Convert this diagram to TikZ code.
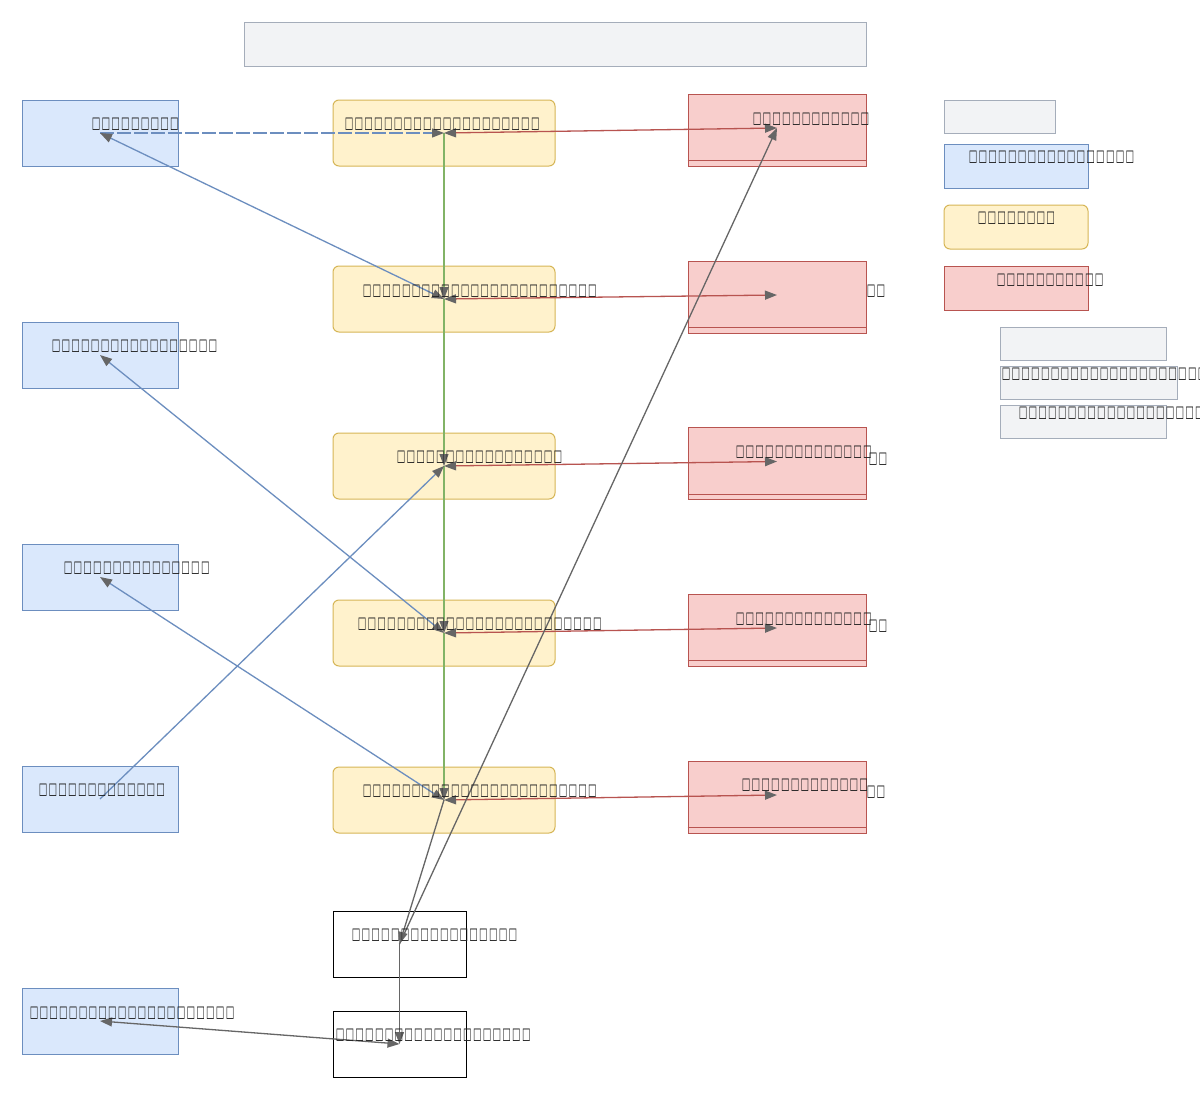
\documentclass[tikz,border=0pt]{standalone}
\usepackage{fontspec}
\usepackage{graphicx}
\setmainfont{DejaVu Sans}
\usetikzlibrary{arrows.meta}
\definecolor{bluef}{HTML}{DAE8FC}\definecolor{blued}{HTML}{6C8EBF}
\definecolor{yelf}{HTML}{FFF2CC}\definecolor{yeld}{HTML}{D6B656}
\definecolor{redf}{HTML}{F8CECC}\definecolor{redd}{HTML}{B85450}
\definecolor{grayf}{HTML}{F2F3F5}\definecolor{grayd}{HTML}{A5ADBA}
\definecolor{edgec}{HTML}{666666}\definecolor{greend}{HTML}{82B366}
\definecolor{txtc}{HTML}{222222}
\newcommand\tfglyph{\makebox[9.8pt][c]{\resizebox*{8.6pt}{12.5pt}{\char"2610}}}
\newcommand\tofus[1]{{\count255=0 \loop\ifnum\count255<#1 \tfglyph\advance\count255 by 1 \repeat}}
\tikzset{
  base/.style={draw, line width=1pt, inner sep=0pt},
  bluebox/.style={base, fill=bluef, draw=blued, minimum width=156pt, minimum height=66pt},
  yelbox/.style={base, fill=yelf, draw=yeld, rounded corners=6pt, minimum width=222pt, minimum height=66pt},
  redbox/.style={base, fill=redf, draw=redd, minimum width=178pt, minimum height=72pt},
  blkbox/.style={base, fill=white, draw=black, minimum width=133pt, minimum height=66pt},
  graybox/.style={base, fill=grayf, draw=grayd},
  lbl/.style={inner sep=0pt, anchor=west, text=txtc, font=\fontsize{13}{13}\selectfont},
  tip/.style={-{Triangle[length=12pt,width=9pt,color=edgec]}},
  tips/.style={{Triangle[length=12pt,width=9pt,color=edgec]}-{Triangle[length=12pt,width=9pt,color=edgec]}},
  blueln/.style={draw=blued, line width=1.3pt},
  redln/.style={draw=redd, line width=1.3pt},
  greenln/.style={draw=greend, line width=1.1pt},
  grayln/.style={draw=edgec, line width=1.3pt},
}
\begin{document}
\begin{tikzpicture}[x=1pt,y=-1pt]
\useasboundingbox[fill=white] (0,0) rectangle (1200,1100);
% title
\node[graybox, minimum width=622pt, minimum height=44pt] (title) at (555,44) {};
% left blue
\node[bluebox] (b1) at (100,133) {};
\node[bluebox] (b2) at (100,355) {};
\node[bluebox] (b3) at (100,577) {};
\node[bluebox] (b4) at (100,799) {};
\node[bluebox] (b5) at (100,1021) {};
% yellow
\node[yelbox] (y1) at (444,133) {};
\node[yelbox] (y2) at (444,299) {};
\node[yelbox] (y3) at (444,466) {};
\node[yelbox] (y4) at (444,633) {};
\node[yelbox] (y5) at (444,800) {};
% red
\node[redbox] (r1) at (777,130) {};
\node[redbox] (r2) at (777,297) {};
\node[redbox] (r3) at (777,463.5) {};
\node[redbox] (r4) at (777,630) {};
\node[redbox] (r5) at (777,797) {};
\foreach \r in {r1,r2,r3,r4,r5}
  \draw[redd, line width=1pt] ([yshift=6pt]\r.south west) -- ([yshift=6pt]\r.south east);
% black
\node[blkbox] (k1) at (399.5,944) {};
\node[blkbox] (k2) at (399.5,1044) {};
% legend
\node[graybox, minimum width=111pt, minimum height=33pt] (lg0) at (999.5,116.5) {};
\node[base, fill=bluef, draw=blued, minimum width=144pt, minimum height=44pt] (lg1) at (1016,166) {};
\node[base, fill=yelf, draw=yeld, rounded corners=6pt, minimum width=144pt, minimum height=44pt] (lg2) at (1016,227) {};
\node[base, fill=redf, draw=redd, minimum width=144pt, minimum height=44pt] (lg3) at (1016,288) {};
\node[graybox, minimum width=166pt, minimum height=33pt] (lg4) at (1083,344) {};
\node[graybox, minimum width=177pt, minimum height=33pt] (lg5) at (1088.5,383) {};
\node[graybox, minimum width=166pt, minimum height=33pt] (lg6) at (1083,421.5) {};

% connectors
\draw[greenln, tip] (y1.center) -- (y2.center);
\draw[greenln, tip] (y2.center) -- (y3.center);
\draw[greenln, tip] (y3.center) -- (y4.center);
\draw[greenln, tip] (y4.center) -- (y5.center);
\draw[blueln, dash pattern=on 14pt off 3pt, tip] (b1.center) -- (y1.center);
\draw[blueln, tips] (b1.center) -- (y2.center);
\draw[blueln, tips] (b2.center) -- (y4.center);
\draw[blueln, tip] (b4.center) -- (y3.center);
\draw[blueln, tips] (b3.center) -- (y5.center);
\draw[redln, tips] (y1.center) -- ([yshift=2pt]r1.center);
\draw[redln, tips] (y2.center) -- ([yshift=2pt]r2.center);
\draw[redln, tips] (y3.center) -- ([yshift=2pt]r3.center);
\draw[redln, tips] (y4.center) -- ([yshift=2pt]r4.center);
\draw[redln, tips] (y5.center) -- ([yshift=2pt]r5.center);
\draw[grayln, tip] (k1.center) -- ([yshift=2pt]r1.center);
\draw[grayln, tip] (y5.center) -- (k1.center);
\draw[grayln, tip] (k1.center) -- (k2.center);
\draw[grayln, tips] (b5.center) -- (k2.center);

% texts
\node[lbl] (t1) at (91,124) {\tofus{9}};
\node[lbl] (t2) at (344,124) {\tofus{20}};
\node[lbl] (t3) at (752,119) {\tofus{12}};
\node[lbl] (t4) at (362,291) {\tofus{24}};
\node[lbl] (t5) at (866,291) {\tofus{2}};
\node[lbl] (t6) at (396,457) {\tofus{17}};
\node[lbl] (t7) at (735,452) {\tofus{14}};
\node[lbl] (t7b) at (868,459) {\tofus{2}};
\node[lbl] (t8) at (51,346) {\tofus{17}};
\node[lbl] (t9) at (63,568) {\tofus{15}};
\node[lbl] (t10) at (357,624) {\tofus{25}};
\node[lbl] (t11) at (735,619) {\tofus{14}};
\node[lbl] (t11b) at (868,626) {\tofus{2}};
\node[lbl] (t12) at (38,790) {\tofus{13}};
\node[lbl] (t13) at (362,791) {\tofus{24}};
\node[lbl] (t14) at (741,785) {\tofus{13}};
\node[lbl] (t14b) at (866,792) {\tofus{2}};
\node[lbl] (t15) at (351,935) {\tofus{17}};
\node[lbl] (t16) at (335,1035) {\tofus{20}};
\node[lbl] (t17) at (29,1013) {\tofus{21}};
\node[lbl] (t18) at (968,157) {\tofus{17}};
\node[lbl] (t19) at (977,218) {\tofus{8}};
\node[lbl] (t20) at (996,280) {\tofus{11}};
\node[lbl] (t21) at (1001,374) {\tofus{21}};
\node[lbl] (t22) at (1018,413) {\tofus{20}};
\end{tikzpicture}
\end{document}
